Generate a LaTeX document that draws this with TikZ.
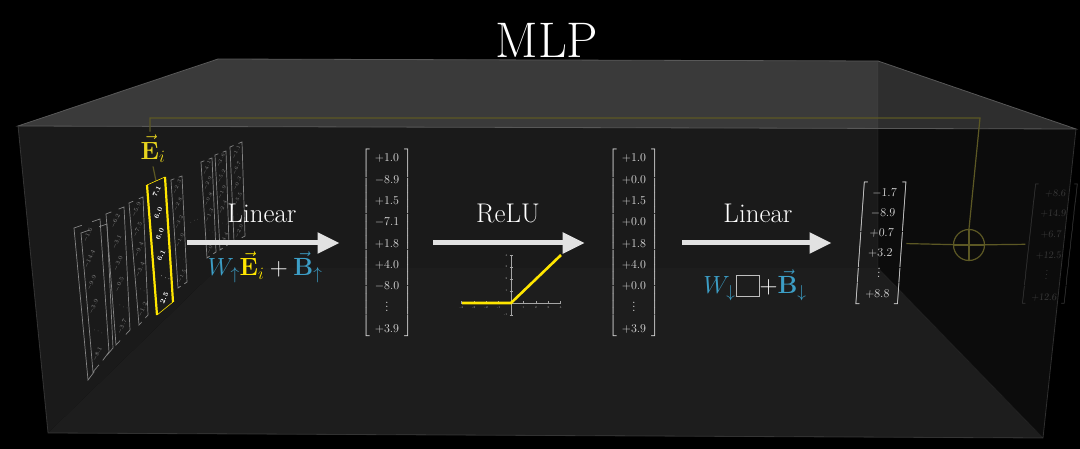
\documentclass[tikz,border=0pt]{standalone}
\usepackage{amsmath}
\usepackage{tikz}
\usetikzlibrary{arrows.meta,positioning,calc}
\definecolor{MLPYellow}{RGB}{255,230,0}
\definecolor{LabelYellow}{RGB}{232,212,30}
\definecolor{MLPBlue}{RGB}{60,158,198}
\definecolor{ArrowWhite}{RGB}{226,226,226}
\definecolor{VecGray}{RGB}{222,222,222}
\definecolor{StackGray}{RGB}{132,132,132}
\definecolor{FaintGray}{RGB}{58,58,58}
\definecolor{ResidOlive}{RGB}{92,88,36}
\definecolor{BackWall}{RGB}{26,26,26}
\definecolor{FloorFace}{RGB}{29,29,29}
\definecolor{SideWall}{RGB}{12,12,12}
\definecolor{EdgeGray}{RGB}{88,88,88}
\definecolor{BoxGray}{RGB}{190,190,190}
\definecolor{AxisGray}{RGB}{165,165,165}

% bracket lines of one slanted column: TL, TR, BL, BR, style
\newcommand\colbrackets[5]{%
  \draw[#5] ($(#1)!0.3!(#2)$) -- (#1) -- (#3) -- ($(#3)!0.3!(#4)$);
  \draw[#5] ($(#2)!0.3!(#1)$) -- (#2) -- (#4) -- ($(#4)!0.3!(#3)$);
}
% six entries of one slanted column: TL, TR, BL, BR, style, entries
\newcommand\colentries[6]{%
  \foreach \v [count=\k] in {#6}{
    \pgfmathsetmacro\colt{(\k-0.5)/6}
    \path ($(#1)!\colt!(#3)$) coordinate (pl) ($(#2)!\colt!(#4)$) coordinate (pr);
    \node[#5] at ($(pl)!0.5!(pr)$) {$\v$};
  }
}

\begin{document}
\begin{tikzpicture}[x=1pt,y=-1pt,
  edge/.style={draw=EdgeGray,line width=0.8pt},
  vecnode/.style={inner sep=0pt,text=VecGray,font=\fontsize{13}{15.6}\selectfont},
  bigarrow/.style={draw=ArrowWhite,line width=5pt,-{Triangle[length=22pt,width=20pt]}},
  lbl/.style={text=white,font=\fontsize{27}{30}\selectfont},
  frm/.style={text=white,font=\fontsize{25}{28}\selectfont},
  stackline/.style={draw=StackGray,line width=0.7pt},
  stacknum/.style={text=StackGray,font=\fontsize{6.5}{7}\selectfont,rotate=65,inner sep=0pt},
  farnum/.style={text=StackGray,font=\fontsize{4.5}{5}\selectfont,rotate=65,inner sep=0pt},
  hlnum/.style={text=white,font=\fontsize{7}{8}\selectfont\boldmath,rotate=65,inner sep=0pt},
  resid/.style={draw=ResidOlive,line width=1.2pt},
  ticklbl/.style={text=AxisGray,font=\fontsize{3}{3}\selectfont,inner sep=0pt},
]
\useasboundingbox (0,0) rectangle (1080,449);
\fill[black] (0,0) rectangle (1080,449);

% the box
\fill[BackWall] (218,59) -- (878,61) -- (878,268) -- (218,268) -- cycle;
\fill[BackWall] (18,126) -- (218,59) -- (218,268) -- (48,433) -- cycle;
\fill[FloorFace] (218,268) -- (878,268) -- (1043,438) -- (48,433) -- cycle;
\fill[SideWall] (878,61) -- (1076,129) -- (1043,438) -- (878,268) -- cycle;
\fill[white,fill opacity=0.14] (18,126) -- (218,59) -- (878,61) -- (1076,129) -- cycle;
\draw[edge] (18,126) -- (218,59) -- (878,61) -- (1076,129) -- cycle;
\draw[edge,draw opacity=0.5] (1076,129) -- (1043,438) -- (48,433) -- (18,126);
\draw[edge,draw opacity=0.2] (878,61) -- (878,268) -- (1043,438);

\node[text=white,font=\fontsize{50}{55}\selectfont] (title) at (547,40) {MLP};

% residual path
\node[text=LabelYellow,font=\fontsize{23}{26}\selectfont] (ei) at (153,149) {$\vec{\mathbf{E}}_i$};
\node[circle,draw=ResidOlive,line width=1.2pt,minimum size=31pt,inner sep=0pt] (addop) at (969,245) {};
\draw[resid] (addop.north) -- (addop.south) (addop.west) -- (addop.east);
\coordinate (rcorner) at (980,118);
\coordinate (hltop) at (156,181);
\draw[resid] ([xshift=-3pt]ei.north) |- (rcorner) -- (addop.north);
\draw[resid] (ei.south) -- (hltop);

% embedding columns
\colbrackets{74,228}{100,219}{88,380}{109,352}{stackline}
\colbrackets{81,233}{107,224}{93,372}{113,348}{stackline}
\colentries{74,228}{100,219}{88,380}{109,352}{stacknum}{-1.6,-14.4,-9.9,-3.9,\vdots,-8.1}
\colbrackets{106,214}{124,207}{116,345}{130,330}{stackline}
\colentries{106,214}{124,207}{116,345}{130,330}{stacknum}{-6.2,-3.1,-3.0,-0.5,\vdots,-3.7}
\colbrackets{129,203}{143,197}{139,325}{148,315}{stackline}
\colentries{129,203}{143,197}{139,325}{148,315}{stacknum}{-5.9,-7.5,-9.4,-3.4,\vdots,-1.2}
\colbrackets{171,180}{182,176}{178,288}{187,282}{stackline}
\colentries{171,180}{182,176}{178,288}{187,282}{farnum}{-2.3,-2.8,-3.2,-1.0,\vdots,-1.5}
\colbrackets{201,162}{212,158}{207,258}{216,252}{stackline}
\colentries{201,162}{212,158}{207,258}{216,252}{farnum}{-4.1,-2.9,-0.8,-1.3,\vdots,-0.1}
\colbrackets{215,155}{226,151}{220,250}{229,244}{stackline}
\colentries{215,155}{226,151}{220,250}{229,244}{farnum}{-3.6,-5.2,-1.9,-2.4,\vdots,-4.4}
\colbrackets{230,147}{242,142}{234,242}{245,236}{stackline}
\colentries{230,147}{242,142}{234,242}{245,236}{farnum}{-1.1,-6.7,-0.3,-5.5,\vdots,-2.0}
\node[stacknum,rotate=-45] (moredots) at (195,221) {$\cdots$};
% highlighted column
\draw[MLPYellow,line width=0.6pt] (147,185) -- (165,177) (157,315) -- (173,302);
\draw[MLPYellow,line width=2.2pt] (147,185) -- (157,315) (165,177) -- (173,302);
\colentries{147,185}{165,177}{157,315}{173,302}{hlnum}{7.1,6.0,6.0,6.1,\vdots,2.5}

% hidden vectors
\node[vecnode] (hidA) at (387,243) {\renewcommand\arraystretch{1.365}$\left[\begin{array}{c}+1.0\\-8.9\\+1.5\\-7.1\\+1.8\\+4.0\\-8.0\\\vdots\\+3.9\end{array}\right]$};
\node[vecnode] (hidB) at (634,243) {\renewcommand\arraystretch{1.365}$\left[\begin{array}{c}+1.0\\+0.0\\+1.5\\+0.0\\+1.8\\+4.0\\+0.0\\\vdots\\+3.9\end{array}\right]$};
\node[vecnode,xslant=0.07] (outv) at (881,243) {\renewcommand\arraystretch{1.28}$\left[\begin{array}{c}-1.7\\-8.9\\+0.7\\+3.2\\\vdots\\+8.8\end{array}\right]$};
\node[vecnode,text=FaintGray,xslant=0.11,font=\fontsize{10}{12}\selectfont] (resv) at (1050,244) {\renewcommand\arraystretch{1.72}$\left[\begin{array}{c}+8.6\\+14.9\\+6.7\\+12.5\\\vdots\\+12.6\end{array}\right]$};
\draw[resid] (outv) -- (addop) -- (resv);

% arrows and labels
\coordinate (stackend) at (187,243);
\draw[bigarrow,shorten >=22pt] (stackend) -- (hidA);
\draw[bigarrow,shorten <=21pt,shorten >=24pt] (hidA) -- (hidB);
\draw[bigarrow,shorten <=23pt,shorten >=24pt] (hidB) -- (outv);
\node[lbl] (lin1) at (262,213) {Linear};
\node[lbl] (relu) at (508,213) {ReLU};
\node[lbl] (lin2) at (758,213) {Linear};
\node[frm] (upf) at (265,267) {${\color{MLPBlue}W_{\uparrow}}{\color{MLPYellow}\vec{\mathbf{E}}_i}+{\color{MLPBlue}\vec{\mathbf{B}}_{\uparrow}}$};
\node[frm] (downf) at (755,285) {${\color{MLPBlue}W_{\downarrow}}$\textcolor{BoxGray}{\fboxsep=0pt\fboxrule=1pt\raisebox{-3pt}{\fbox{\rule{0pt}{20pt}\rule{22pt}{0pt}}}}$+{\color{MLPBlue}\vec{\mathbf{B}}_{\downarrow}}$};

% relu graph
\begin{scope}[shift={(511,303)}]
  \draw[AxisGray,line width=0.6pt] (-49,0) -- (50,0) (0,-47) -- (0,13);
  \foreach \t in {-4,-3,-2,-1,1,2,3,4}
    \draw[AxisGray,line width=0.4pt] (12.4*\t,-1.5) -- (12.4*\t,1.5) node[ticklbl,below=1.5pt] {\t};
  \foreach \t in {-1,1,2,3,4}
    \draw[AxisGray,line width=0.4pt] (-1.5,-12*\t) -- (1.5,-12*\t) node[ticklbl,pos=0,left=2pt] {\t};
  \draw[MLPYellow,line width=2.6pt] (-49,0) -- (0,0) -- (50,-48);
\end{scope}
\end{tikzpicture}
\end{document}
